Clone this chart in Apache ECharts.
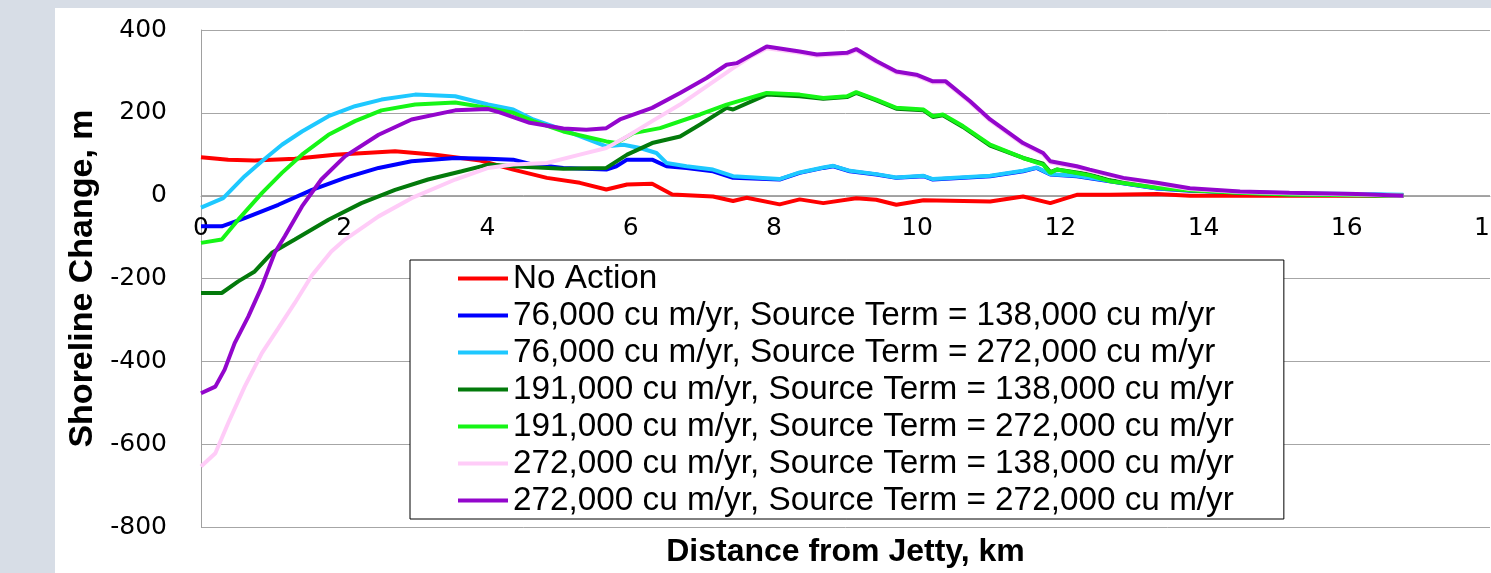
<!DOCTYPE html>
<html>
<head>
<meta charset="utf-8">
<script src="https://cdn.jsdelivr.net/npm/echarts@6/dist/echarts.min.js"></script>
<style>
  html, body { margin: 0; padding: 0; width: 1491px; height: 573px; background: #d7dde6; overflow: hidden; }
  #chart { position: absolute; left: 55px; top: 8px; width: 1436px; height: 565px; background: #fff; }
</style>
</head>
<body>
<div id="chart"></div>
<script>
// distance from jetty (km), shoreline change (m)
var noAction = [[0,93],[0.38,87],[0.75,85],[1.31,89],[1.87,99],[2.71,107],[3.27,99],[3.9,85],[4.36,63],[4.83,43],[5.29,31],[5.66,15],[5.95,27],[6.3,29],[6.58,3],[7.15,-2],[7.43,-13],[7.62,-5],[8.08,-21],[8.36,-9],[8.69,-18],[9.15,-6],[9.43,-10],[9.71,-22],[10.09,-11],[11.02,-14],[11.48,-2],[11.86,-18],[12.23,2],[12.69,2],[13.35,4],[13.81,0],[15.2,0],[16.79,0]];
var q76s138 = [[0,-74],[0.29,-74],[0.61,-54],[1.08,-22],[1.55,14],[2.01,43],[2.48,67],[2.94,83],[3.55,91],[4.01,89],[4.36,87],[4.64,75],[5.06,67],[5.66,63],[5.8,71],[5.95,87],[6.3,87],[6.5,71],[6.78,67],[7.15,59],[7.43,43],[8.08,39],[8.36,55],[8.69,67],[8.83,71],[9.06,59],[9.43,51],[9.71,43],[10.09,47],[10.22,39],[11.02,47],[11.48,59],[11.67,67],[11.86,51],[12.23,47],[12.69,35],[13.35,17],[13.81,12],[14.51,8],[15.2,5],[16.14,3],[16.79,1]];
var q76s272 = [[0,-29],[0.31,-6],[0.61,47],[0.85,83],[1.13,123],[1.41,155],[1.78,192],[2.15,216],[2.52,232],[2.99,244],[3.55,240],[4.01,220],[4.36,208],[4.64,184],[5.06,159],[5.66,119],[5.9,123],[6.13,115],[6.36,103],[6.5,79],[6.78,71],[7.15,63],[7.43,47],[8.08,40],[8.36,56],[8.69,68],[8.83,72],[9.06,60],[9.43,52],[9.71,44],[10.09,48],[10.22,40],[11.02,48],[11.48,60],[11.67,68],[11.86,52],[12.23,48],[12.69,36],[13.35,18],[13.81,13],[14.51,9],[15.2,6],[16.14,4],[16.79,2]];
var q191s138 = [[0,-235],[0.29,-235],[0.52,-207],[0.75,-183],[0.99,-138],[1.31,-106],[1.78,-58],[2.24,-18],[2.71,14],[3.17,39],[3.64,59],[4.01,75],[4.36,71],[5.06,65],[5.66,67],[5.95,99],[6.3,127],[6.69,143],[6.97,172],[7.34,212],[7.43,208],[7.9,244],[8.36,240],[8.69,234],[9.02,238],[9.15,248],[9.43,230],[9.71,210],[10.09,206],[10.22,190],[10.36,194],[10.64,166],[11.02,121],[11.48,91],[11.76,77],[11.86,57],[11.95,63],[12.41,51],[12.69,37],[13.35,20],[13.81,13],[14.51,7],[15.2,3],[16.14,1],[16.79,0]];
var q191s272 = [[0,-114],[0.29,-106],[0.52,-58],[0.85,6],[1.13,55],[1.41,99],[1.78,147],[2.15,180],[2.52,206],[2.99,220],[3.55,225],[4.01,212],[4.36,200],[4.64,180],[5.06,155],[5.66,131],[5.8,127],[6.04,151],[6.41,163],[6.97,196],[7.34,220],[7.9,248],[8.36,244],[8.69,236],[9.02,240],[9.15,250],[9.43,232],[9.71,212],[10.09,208],[10.22,192],[10.36,196],[10.64,168],[11.02,123],[11.48,91],[11.76,75],[11.86,55],[11.95,63],[12.41,49],[12.69,35],[13.35,19],[13.81,13],[14.51,7],[15.2,3],[16.14,1],[16.79,0]];
var q272s138 = [[0,-654],[0.2,-622],[0.38,-549],[0.61,-461],[0.85,-380],[1.08,-320],[1.31,-259],[1.55,-192],[1.82,-135],[2.01,-106],[2.48,-50],[2.94,-6],[3.55,39],[4.01,67],[4.36,75],[4.83,79],[5.29,99],[5.66,115],[5.95,143],[6.3,180],[6.69,220],[7.06,264],[7.43,308],[7.7,338],[7.9,356],[8.36,345],[8.6,338],[9.02,342],[9.15,351],[9.43,322],[9.71,297],[9.99,289],[10.22,273],[10.4,273],[10.74,225],[11.02,181],[11.48,124],[11.76,100],[11.86,80],[12.23,68],[12.41,60],[12.88,41],[13.35,29],[13.81,16],[14.51,9],[15.2,6],[16.14,3],[16.79,0]];
var q272s272 = [[0,-477],[0.2,-461],[0.33,-420],[0.47,-356],[0.66,-292],[0.85,-219],[1.03,-138],[1.17,-98],[1.41,-26],[1.68,39],[2.01,95],[2.48,147],[2.94,184],[3.55,206],[4.01,209],[4.17,201],[4.59,176],[5.06,162],[5.38,159],[5.66,163],[5.85,184],[6.3,212],[6.69,248],[7.06,284],[7.34,316],[7.48,320],[7.9,360],[8.36,348],[8.6,341],[9.02,345],[9.15,354],[9.43,325],[9.71,300],[9.99,292],[10.22,276],[10.4,276],[10.74,228],[11.02,184],[11.48,127],[11.76,103],[11.86,83],[12.23,71],[12.41,63],[12.88,43],[13.35,31],[13.81,18],[14.51,10],[15.2,7],[16.14,4],[16.79,0]];

var names = ['No Action',
  '76,000 cu m/yr, Source Term = 138,000 cu m/yr',
  '76,000 cu m/yr, Source Term = 272,000 cu m/yr',
  '191,000 cu m/yr, Source Term = 138,000 cu m/yr',
  '191,000 cu m/yr, Source Term = 272,000 cu m/yr',
  '272,000 cu m/yr, Source Term = 138,000 cu m/yr',
  '272,000 cu m/yr, Source Term = 272,000 cu m/yr'];
var values = [noAction, q76s138, q76s272, q191s138, q191s272, q272s138, q272s272];
var colors = ['#ff0000', '#0000ff', '#1ec8ff', '#037a0b', '#16f516', '#ffccf8', '#9306cc'];

var chart = echarts.init(document.getElementById('chart'));

var series = names.map(function (n, i) {
    return {
        name: n,
        type: 'line',
        data: values[i],
        showSymbol: false,
        symbol: 'none',
        lineStyle: { width: 4, color: colors[i] },
        itemStyle: { color: colors[i] },
        animation: false
    };
});

chart.setOption({
    backgroundColor: '#fff',
    color: colors,
    grid: { left: 146, top: 22, width: 1289, height: 497, outerBoundsMode: 'none', containLabel: false },
    legend: {
        orient: 'vertical',
        left: 355,
        top: 252,
        icon: 'rect',
        itemWidth: 50,
        itemHeight: 4,
        itemGap: 0,
        padding: [0, 50, 0, 48],
        borderColor: '#000',
        borderWidth: 1,
        backgroundColor: '#fff',
        data: names,
        textStyle: { fontFamily: 'Liberation Sans', fontSize: 33.3, lineHeight: 37, color: '#000' }
    },
    xAxis: {
        type: 'value',
        position: 'bottom',
        offset: -331,   // axis sits on the zero line
        min: 0,
        max: 18,
        interval: 2,
        name: 'Distance from Jetty, km',
        nameLocation: 'middle',
        nameGap: 340,
        nameTextStyle: { fontFamily: 'Liberation Sans', fontWeight: 'bold', fontSize: 32, color: '#000' },
        axisLine: { onZero: false, lineStyle: { color: '#a0a0a0', width: 1 } },
        axisTick: { show: false },
        splitLine: { show: false },
        axisLabel: { fontFamily: 'DejaVu Sans', fontSize: 25, color: '#000', margin: 20 }
    },
    yAxis: {
        type: 'value',
        min: -800,
        max: 400,
        interval: 200,
        name: 'Shoreline Change, m',
        nameLocation: 'middle',
        nameRotate: 90,
        nameGap: 100,
        nameTextStyle: { fontFamily: 'Liberation Sans', fontWeight: 'bold', fontSize: 34, color: '#000' },
        axisLine: { show: true, lineStyle: { color: '#a0a0a0', width: 1 } },
        axisTick: { show: false },
        splitLine: { lineStyle: { color: '#a6a6a6', width: 1 } },
        axisLabel: { fontFamily: 'DejaVu Sans', fontSize: 25, color: '#000', margin: 34 }
    },
    series: series
});
</script>
</body>
</html>
